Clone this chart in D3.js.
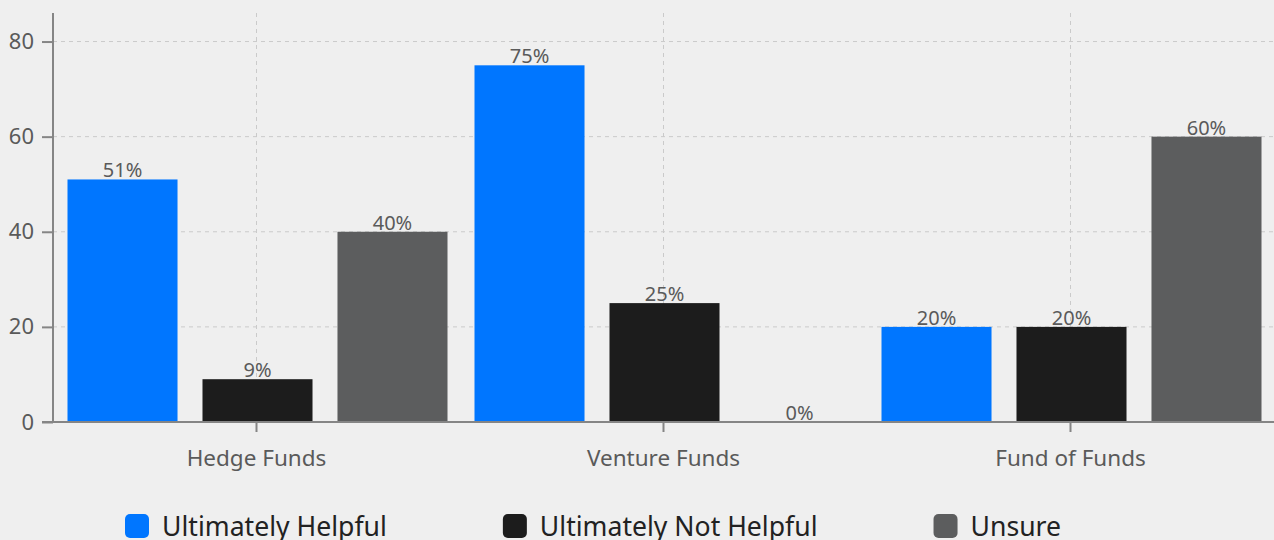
<!DOCTYPE html>
<html>
<head>
<meta charset="utf-8">
<script src="https://cdn.jsdelivr.net/npm/d3@7"></script>
<style>
  html, body { margin: 0; padding: 0; background: #efefef; }
  svg { display: block; font-family: "Noto Sans", "Open Sans", sans-serif; }
</style>
</head>
<body>
<div id="chart"></div>
<script>
// data
const categories = ["Hedge Funds", "Venture Funds", "Fund of Funds"]
const seriesNames = ["Ultimately Helpful", "Ultimately Not Helpful", "Unsure"]
const helpful = [51, 75, 20]
const notHelpful = [9, 25, 20]
const unsure = [40, 0, 60]
const yTicks = [0, 20, 40, 60, 80]
const colors = ["#0076ff", "#1c1c1c", "#5c5d5e"]

const width = 1274, height = 540
const margin = { left: 53, right: 0, top: 13, bottom: 118 }
const innerW = width - margin.left - margin.right
const innerH = height - margin.top - margin.bottom

const data = categories.map((c, i) => ({
    cat: c,
    values: [helpful[i], notHelpful[i], unsure[i]]
}))

const svg = d3.select("#chart").append("svg")
    .attr("width", width)
    .attr("height", height)

const g = svg.append("g")
    .attr("transform", "translate(" + margin.left + "," + margin.top + ")")

// scales
const x0 = d3.scaleBand().domain(categories).range([0, innerW])
const x1 = d3.scaleBand().domain(d3.range(3)).range([1, x0.bandwidth() + 1])
    .paddingInner(0.185).paddingOuter(0.1)
const y = d3.scaleLinear().domain([0, 86]).range([innerH, 0])

// grid
g.append("g").selectAll("line")
    .data(yTicks.filter(d => d > 0))
    .enter().append("line")
    .attr("x1", 0).attr("x2", innerW)
    .attr("y1", d => y(d)).attr("y2", d => y(d))
    .attr("stroke", "#cacaca").attr("stroke-dasharray", "4,4")

g.append("g").selectAll("line")
    .data(categories)
    .enter().append("line")
    .attr("x1", d => x0(d) + x0.bandwidth() / 2).attr("x2", d => x0(d) + x0.bandwidth() / 2)
    .attr("y1", 0).attr("y2", innerH)
    .attr("stroke", "#cacaca").attr("stroke-dasharray", "4,4")

// bars
const groups = g.selectAll(".grp")
    .data(data)
    .enter().append("g")
    .attr("transform", d => "translate(" + x0(d.cat) + ",0)")

groups.selectAll("rect")
    .data(d => d.values)
    .enter().append("rect")
    .attr("x", (d, i) => x1(i))
    .attr("y", d => y(d))
    .attr("width", x1.bandwidth())
    .attr("height", d => innerH - y(d))
    .attr("fill", (d, i) => colors[i])

groups.selectAll("text")
    .data(d => d.values)
    .enter().append("text")
    .attr("x", (d, i) => x1(i) + x1.bandwidth() / 2)
    .attr("y", d => y(d) - 2)
    .attr("text-anchor", "middle")
    .attr("font-size", "20px")
    .attr("fill", "#5a5a5a")
    .text(d => d + "%")

// axes
const yAxis = g.append("g")
    .call(d3.axisLeft(y).tickValues(yTicks).tickSize(11).tickPadding(8))
yAxis.select(".domain").attr("d", "M0," + innerH + "V0")
yAxis.selectAll("line, path").attr("stroke", "#858585").attr("stroke-width", 2)
yAxis.selectAll("text").attr("font-size", "22px").attr("fill", "#5a5a5a")
    .attr("font-family", "Noto Sans, sans-serif")

const xAxis = g.append("g")
    .attr("transform", "translate(0," + innerH + ")")
    .call(d3.axisBottom(x0).tickSize(10).tickPadding(18))
xAxis.select(".domain").attr("d", "M-11,0H" + innerW)
xAxis.selectAll("line, path").attr("stroke", "#858585").attr("stroke-width", 2)
xAxis.selectAll("text").attr("font-size", "22.5px").attr("fill", "#5a5a5a")
    .attr("font-family", "Noto Sans, sans-serif")

// legend
const legend = svg.append("g").attr("transform", "translate(125,514)")
let lx = 0
seriesNames.forEach((name, i) => {
    const item = legend.append("g").attr("transform", "translate(" + lx + ",0)")
    item.append("rect")
        .attr("width", 24).attr("height", 24).attr("rx", 5)
        .attr("fill", colors[i])
    const t = item.append("text")
        .attr("x", 37).attr("y", 22)
        .attr("font-size", "26.6px")
        .attr("fill", "#222")
        .text(name)
    lx += 37 + t.node().getComputedTextLength() + 116
})
</script>
</body>
</html>
